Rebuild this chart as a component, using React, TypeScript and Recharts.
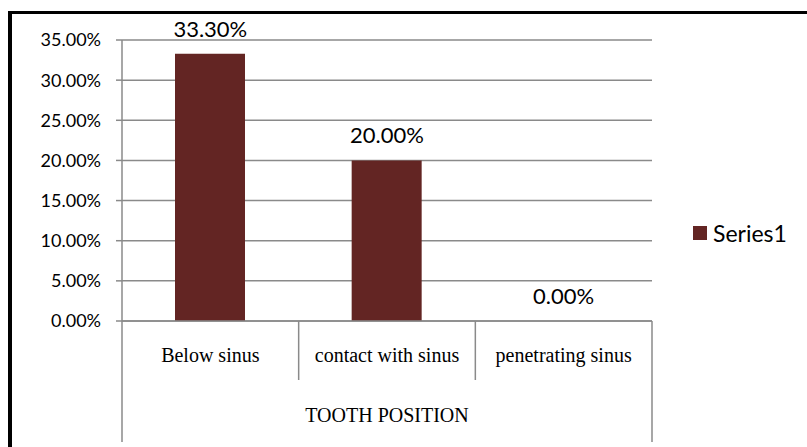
import { ComposedChart, Bar, Line, XAxis, YAxis, CartesianGrid, Legend, LabelList } from 'recharts';

const categories = ['Below sinus', 'contact with sinus', 'penetrating sinus'];
const series1 = [0.333, 0.2, 0];
const yTicks = [0, 0.05, 0.1, 0.15, 0.2, 0.25, 0.3, 0.35];
const axisTitle = 'TOOTH POSITION';

const data = categories.map((name, i) => ({ name, Series1: series1[i] }));

const pct = (v: any) => `${(Number(v) * 100).toFixed(2)}%`;

const GRID = '#8a8a8a';
const BAR = '#632523';

const CategoryTick = (props: any) => {
  const { x, y, payload, index, visibleTicksCount } = props;
  const half = payload?.offset ?? 88;
  const last = index === visibleTicksCount - 1;
  return (
    <g>
      <line x1={x - half} y1={y} x2={x - half} y2={y + (index === 0 ? 121 : 59)} stroke={GRID} strokeWidth={1.5} />
      {last && <line x1={x + half} y1={y} x2={x + half} y2={y + 121} stroke={GRID} strokeWidth={1.5} />}
      <text x={x} y={y + 41} textAnchor="middle" fontFamily="'Liberation Serif', serif" fontSize={20} fill="#000">
        {payload.value}
      </text>
    </g>
  );
};

const LegendContent = () => (
  <div style={{ display: 'flex', alignItems: 'center', fontFamily: 'Lato, sans-serif', fontSize: 23, color: '#000' }}>
    <span style={{ width: 14, height: 14, background: BAR, display: 'inline-block', marginRight: 6 }} />
    <span>Series1</span>
  </div>
);

export default function App() {
  return (
    <div style={{ position: 'absolute', left: 0, top: 0, width: 807, height: 447, background: '#fff', overflow: 'hidden' }}>
      <ComposedChart
        width={807}
        height={447}
        data={data}
        margin={{ top: 40, right: 155, left: 62, bottom: 5 }}
      >
        <CartesianGrid vertical={false} stroke={GRID} strokeWidth={1.5} />
        <XAxis
          dataKey="name"
          height={121}
          axisLine={{ stroke: GRID, strokeWidth: 1.5 }}
          tickLine={false}
          tickSize={0}
          tickMargin={0}
          interval={0}
          tick={<CategoryTick />}
          label={({ viewBox }: any) => (
            <text
              x={viewBox.x + viewBox.width / 2}
              y={viewBox.y + 101}
              textAnchor="middle"
              fontFamily="'Liberation Serif', serif"
              fontSize={20}
              fill="#000"
            >
              {axisTitle}
            </text>
          )}
        />
        <YAxis
          width={60}
          domain={[0, 0.35]}
          ticks={yTicks}
          tickFormatter={pct}
          axisLine={{ stroke: GRID, strokeWidth: 1.5 }}
          tickLine={{ stroke: GRID, strokeWidth: 1.5 }}
          tickSize={6}
          tickMargin={15}
          tick={{ fill: '#000', fontFamily: 'Lato, sans-serif', fontSize: 18 }}
        />
        <Legend
          layout="horizontal"
          align="center"
          verticalAlign="middle"
          content={<LegendContent />}
          wrapperStyle={{ left: 693, top: 219, width: 110 }}
        />
        <Bar dataKey="Series1" fill={BAR} barSize={70} isAnimationActive={false} />
        <Line
          dataKey="Series1"
          stroke="none"
          dot={false}
          activeDot={false}
          legendType="none"
          isAnimationActive={false}
        >
          <LabelList
            dataKey="Series1"
            position="top"
            offset={17}
            formatter={pct}
            fill="#000"
            fontFamily="Lato, sans-serif"
            fontSize={22}
          />
        </Line>
      </ComposedChart>
      <div
        style={{
          position: 'absolute',
          left: 8,
          top: 11,
          width: 820,
          height: 460,
          borderTop: '3px solid #000',
          borderLeft: '4px solid #000',
          pointerEvents: 'none',
        }}
      />
    </div>
  );
}
